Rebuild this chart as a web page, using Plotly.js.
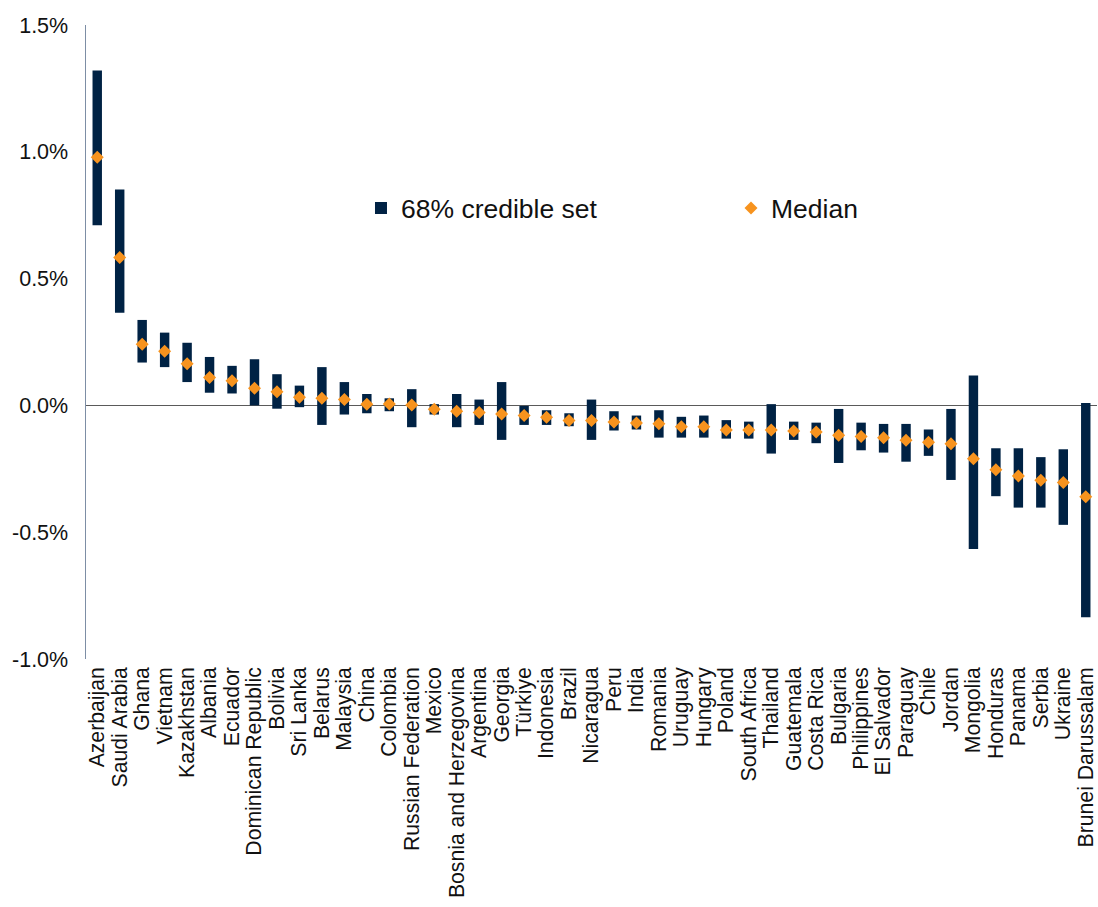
<!DOCTYPE html>
<html>
<head>
<meta charset="utf-8">
<script src="https://cdn.plot.ly/plotly-3.0.1.min.js"></script>
<style>
  html, body { margin: 0; padding: 0; background: #ffffff; }
  #chart { width: 1098px; height: 907px; }
</style>
</head>
<body>
<div id="chart"></div>
<script>
// Data (values in percent)
const countries = ["Azerbaijan","Saudi Arabia","Ghana","Vietnam","Kazakhstan","Albania","Ecuador","Dominican Republic","Bolivia","Sri Lanka","Belarus","Malaysia","China","Colombia","Russian Federation","Mexico","Bosnia and Herzegovina","Argentina","Georgia","Türkiye","Indonesia","Brazil","Nicaragua","Peru","India","Romania","Uruguay","Hungary","Poland","South Africa","Thailand","Guatemala","Costa Rica","Bulgaria","Philippines","El Salvador","Paraguay","Chile","Jordan","Mongolia","Honduras","Panama","Serbia","Ukraine","Brunei Darussalam"];

const credibleLow = [0.710,0.365,0.169,0.151,0.092,0.050,0.047,0.000,-0.013,-0.007,-0.077,-0.036,-0.031,-0.023,-0.086,-0.036,-0.086,-0.077,-0.136,-0.077,-0.077,-0.082,-0.136,-0.099,-0.095,-0.127,-0.127,-0.127,-0.131,-0.131,-0.190,-0.136,-0.149,-0.227,-0.177,-0.186,-0.222,-0.199,-0.294,-0.566,-0.358,-0.403,-0.403,-0.471,-0.835];

const credibleHigh = [1.321,0.851,0.337,0.287,0.247,0.191,0.156,0.182,0.123,0.078,0.151,0.092,0.045,0.028,0.064,0.005,0.045,0.023,0.092,-0.002,-0.019,-0.031,0.023,-0.023,-0.040,-0.019,-0.045,-0.040,-0.058,-0.064,0.005,-0.064,-0.068,-0.014,-0.068,-0.073,-0.073,-0.095,-0.014,0.118,-0.169,-0.169,-0.204,-0.173,0.009];

const median = [0.979,0.583,0.241,0.214,0.164,0.110,0.097,0.068,0.054,0.032,0.028,0.023,0.005,0.006,0.002,-0.015,-0.023,-0.028,-0.034,-0.040,-0.047,-0.060,-0.060,-0.065,-0.069,-0.072,-0.084,-0.084,-0.097,-0.097,-0.097,-0.101,-0.105,-0.118,-0.123,-0.128,-0.137,-0.145,-0.151,-0.210,-0.254,-0.278,-0.295,-0.304,-0.360];

const yTicks = [-1.0, -0.5, 0.0, 0.5, 1.0, 1.5];

const navy = '#002244';
const orange = '#F7931E';
const font = '"Liberation Sans", Arial, sans-serif';

const barTrace = {
  type: 'bar',
  name: '68% credible set',
  x: countries,
  base: credibleLow,
  y: credibleHigh.map((h, i) => h - credibleLow[i]),
  width: 0.42,
  marker: { color: navy, line: { width: 0 } },
  legend: 'legend',
  hoverinfo: 'skip'
};

const medianTrace = {
  type: 'scatter',
  mode: 'markers',
  name: 'Median',
  x: countries,
  y: median,
  marker: { symbol: 'diamond', size: 10, color: orange, line: { width: 0 } },
  legend: 'legend2',
  hoverinfo: 'skip'
};

const layout = {
  width: 1098,
  height: 907,
  margin: { l: 86, r: 1, t: 25, b: 248, pad: 0 },
  paper_bgcolor: '#ffffff',
  plot_bgcolor: '#ffffff',
  font: { family: font, color: '#111111', size: 20 },
  showlegend: true,
  xaxis: {
    type: 'category',
    range: [-0.5, countries.length - 0.5],
    tickmode: 'array',
    tickvals: countries,
    ticktext: countries,
    tickangle: -90,
    tickfont: { family: font, size: 21.2, color: '#111111' },
    showgrid: false,
    showline: false,
    zeroline: false,
    ticks: '',
    ticklabelstandoff: 3,
    automargin: false
  },
  yaxis: {
    range: [-1.0, 1.5],
    tickvals: yTicks,
    ticktext: yTicks.map(v => v.toFixed(1) + '%'),
    tickfont: { family: font, size: 21.5, color: '#111111' },
    showgrid: false,
    showline: true,
    linecolor: '#7d8ea5',
    linewidth: 1.5,
    zeroline: true,
    zerolinecolor: '#5a5a5a',
    zerolinewidth: 1.5,
    ticks: '',
    ticklabelstandoff: 12,
    automargin: false
  },
  legend: {
    x: 0.272, y: 0.711, xanchor: 'left', yanchor: 'middle',
    bgcolor: 'rgba(0,0,0,0)',
    font: { family: font, size: 26.5, color: '#111111' },
    itemwidth: 30
  },
  legend2: {
    x: 0.638, y: 0.711, xanchor: 'left', yanchor: 'middle',
    bgcolor: 'rgba(0,0,0,0)',
    font: { family: font, size: 26.5, color: '#111111' },
    itemwidth: 30
  }
};

Plotly.newPlot('chart', [barTrace, medianTrace], layout, { staticPlot: true, displayModeBar: false });
</script>
</body>
</html>
